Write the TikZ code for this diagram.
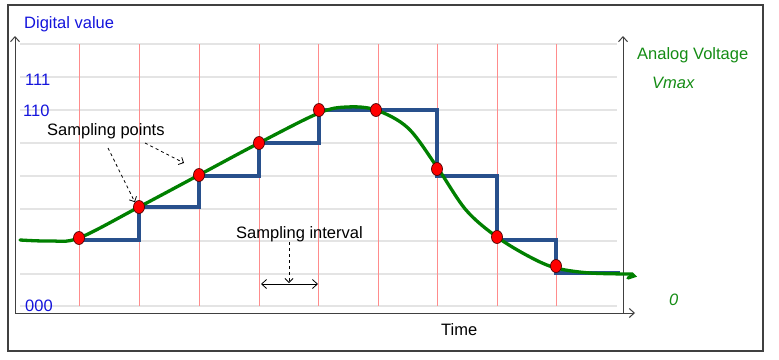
\documentclass[tikz,border=0pt]{standalone}
\usepackage{fontspec}
\setmainfont{Liberation Sans}
\usetikzlibrary{arrows.meta,shapes.geometric}
\definecolor{gridgray}{RGB}{228,228,228}
\definecolor{samplered}{RGB}{255,140,140}
\definecolor{stairblue}{RGB}{40,80,140}
\definecolor{curvegreen}{RGB}{0,128,0}
\definecolor{labelblue}{RGB}{20,20,220}
\definecolor{labelgreen}{RGB}{20,140,20}
\tikzset{
  gridline/.style={gridgray, line width=1.2pt},
  sampleline/.style={samplered, line width=0.9pt},
  axisline/.style={black!75, line width=1pt, -{Straight Barb[length=5pt,width=9pt]}},
  dotmark/.style={ellipse, draw=black!70!red, fill=red, inner sep=0pt, minimum width=11pt, minimum height=13pt, line width=0.7pt},
  lbl/.style={inner sep=0pt, font=\fontsize{16.5}{19}\selectfont},
  dasharrow/.style={dashed, line width=0.8pt, -{Straight Barb[length=4pt,width=8pt]}}
}
\begin{document}
\begin{tikzpicture}[x=1pt,y=-1pt]
\useasboundingbox (0,0) rectangle (779,359);
\draw[black!75, line width=1.3pt] (8,5) rectangle (763,351);
% grid
\foreach \yy in {44,77,110,143,176,209,241,274,306}
  \draw[gridline] (20,\yy) -- (617,\yy);
\foreach \xx in {79,139,199,259,318,378,437,497,556}
  \draw[sampleline] (\xx,44) -- (\xx,306);
% axes
\coordinate (o) at (15,313);
\coordinate (ytop) at (15,36);
\coordinate (xend) at (635,313);
\coordinate (rb) at (623,313);
\coordinate (rtop) at (623,36);
\draw[axisline] (o) -- (ytop);
\draw[axisline] (o) -- (xend);
\draw[axisline] (rb) -- (rtop);
% staircase
\draw[stairblue, line width=3.2pt, line join=miter]
  (79,240) -- (139,240) -- (139,207) -- (199,207) -- (199,176) -- (259,176) -- (259,143)
  -- (319,143) -- (319,110) -- (437,110) -- (437,176) -- (497,176) -- (497,240)
  -- (556,240) -- (556,273) -- (620,273);
% analog curve
\draw[curvegreen, line width=3.3pt, line cap=round] plot[smooth, tension=0.55] coordinates {
  (20,240) (50,241) (79,238) (139,207) (199,175) (259,143) (319,113) (347,107)
  (376,110) (408,128) (437,167) (466,210) (497,237) (530,257) (556,268) (590,273) (632,274)}
  -- (634,276) -- (628,278);
% sample points
\foreach \px/\py [count=\i] in {79/238,139/207,199/175,259/143,319/110,376/110,437/169,497/237,556/266}
  \node[dotmark] (p\i) at (\px,\py) {};
% labels
\node[lbl, text=labelblue, anchor=base west] (dv) at (24,28) {Digital value};
\node[lbl, text=labelblue, anchor=base west] (l111) at (25,85) {111};
\node[lbl, text=labelblue, anchor=base west] (l110) at (23,116) {110};
\node[lbl, text=labelblue, anchor=base west] (l000) at (25,311) {000};
\node[lbl, anchor=base west] (sp) at (47,135) {Sampling points};
\node[lbl, anchor=base west] (si) at (236,238) {Sampling interval};
\node[lbl, anchor=base west] (time) at (441,335) {Time};
\node[lbl, text=labelgreen, anchor=base west] (av) at (637,59) {Analog Voltage};
\node[lbl, text=labelgreen, anchor=base west] (vmax) at (652,88) {\itshape Vmax};
\node[lbl, text=labelgreen, anchor=base west] (zero) at (669,305) {\itshape 0};
% annotation arrows
\coordinate (sa1) at (108,148);
\coordinate (sa2) at (145,143);
\coordinate (sb2) at (184,163);
\draw[dasharrow] (sa1) -- (p2.north west);
\draw[dasharrow] (sa2) -- (sb2);
\coordinate (ia) at (289,242);
\coordinate (ib) at (289,283);
\draw[dasharrow] (ia) -- (ib);
\coordinate (il) at (261,284);
\coordinate (ir) at (318,284);
\draw[line width=0.8pt, {Straight Barb[length=5pt,width=9pt]}-{Straight Barb[length=5pt,width=9pt]}] (il) -- (ir);
\end{tikzpicture}
\end{document}
